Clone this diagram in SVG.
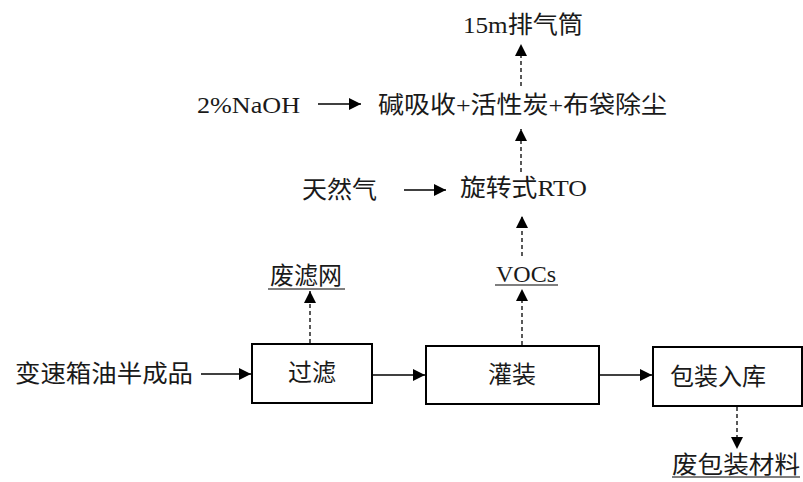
<svg xmlns="http://www.w3.org/2000/svg" width="803" height="482" viewBox="0 0 803 482">
<defs>
<marker id="ah" viewBox="0 0 10 10" refX="10" refY="5" markerWidth="12" markerHeight="12" markerUnits="userSpaceOnUse" orient="auto">
<path d="M0,0 L10,5 L0,10 Z" fill="#000"/>
</marker>
</defs>
<style>
text{font-family:"Liberation Serif","Noto Sans CJK SC",serif;font-size:24px;fill:#1a1a1a;dominant-baseline:central}
.c{text-anchor:middle}
.box{fill:#fff;stroke:#000;stroke-width:2}
.s{stroke:#000;stroke-width:1.5;fill:none;marker-end:url(#ah)}
.d{stroke:#000;stroke-width:1.3;fill:none;stroke-dasharray:4,3;marker-end:url(#ah)}
.u{stroke:#000;stroke-width:1.2}
</style>
<rect width="803" height="482" fill="#fff"/>
<g id="connectors">
<line class="s" x1="201" y1="374" x2="251" y2="374"/>
<line class="s" x1="373" y1="375" x2="425" y2="375"/>
<line class="s" x1="600" y1="375" x2="652" y2="375"/>
<line class="d" x1="310" y1="343" x2="310" y2="291"/>
<line class="d" x1="522" y1="345" x2="522" y2="289"/>
<line class="d" x1="737" y1="407" x2="737" y2="449"/>
<line class="d" x1="522" y1="256" x2="522" y2="216"/>
<line class="d" x1="521" y1="172" x2="521" y2="129"/>
<line class="d" x1="521" y1="86" x2="521" y2="44"/>
<line class="s" x1="404" y1="190" x2="446" y2="190"/>
<line class="s" x1="318" y1="104" x2="361" y2="104"/>
</g>
<g id="n-input"><text x="15" y="374" textLength="178" lengthAdjust="spacingAndGlyphs">变速箱油半成品</text></g>
<g id="n-filter"><rect class="box" x="252" y="344" width="120" height="59"/><text class="c" x="312" y="373">过滤</text></g>
<g id="n-fill"><rect class="box" x="426" y="346" width="173" height="58"/><text class="c" x="512" y="375">灌装</text></g>
<g id="n-pack"><rect class="box" x="653" y="347" width="149" height="59"/><text class="c" x="718" y="377">包装入库</text></g>
<g id="n-waste-filter"><text class="c" x="306" y="276">废滤网</text><line class="u" x1="268" y1="289" x2="345" y2="289"/></g>
<g id="n-vocs"><text class="c" x="526" y="274">VOCs</text><line class="u" x1="495" y1="285" x2="558" y2="285"/></g>
<g id="n-waste-pack"><text x="672" y="465" textLength="128" lengthAdjust="spacingAndGlyphs">废包装材料</text><line class="u" x1="672" y1="477" x2="800" y2="477"/></g>
<g id="n-rto"><text x="460" y="188" textLength="127" lengthAdjust="spacingAndGlyphs">旋转式RTO</text></g>
<g id="n-gas"><text x="302" y="190" textLength="75" lengthAdjust="spacingAndGlyphs">天然气</text></g>
<g id="n-treat"><text x="378" y="105" textLength="289" lengthAdjust="spacingAndGlyphs">碱吸收+活性炭+布袋除尘</text></g>
<g id="n-naoh"><text x="197" y="105" textLength="103" lengthAdjust="spacingAndGlyphs">2%NaOH</text></g>
<g id="n-stack"><text x="463" y="25" textLength="120" lengthAdjust="spacingAndGlyphs">15m排气筒</text></g>
</svg>
